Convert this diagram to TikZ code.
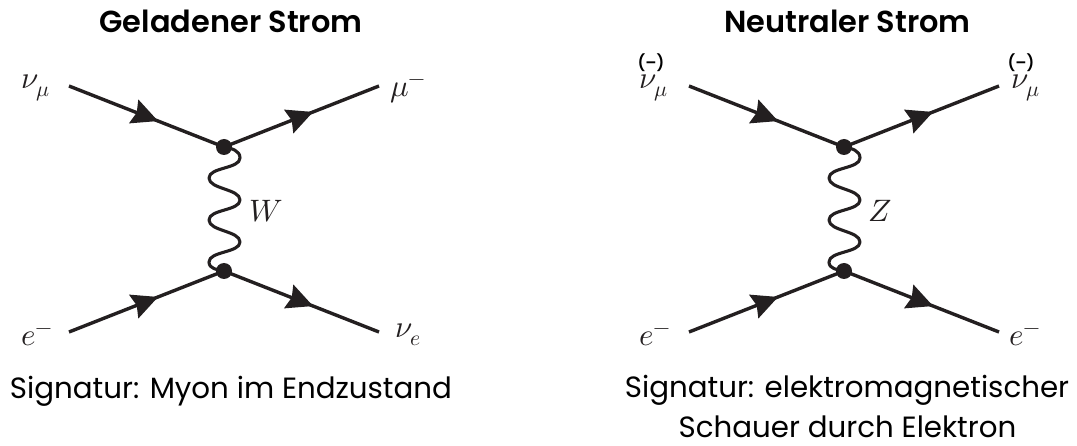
\documentclass[tikz,border=0pt]{standalone}
\usepackage{fontspec}
\setmainfont{Poppins}
\newfontfamily\semifont{Poppins SemiBold}
\usepackage{unicode-math}
\setmathfont{Latin Modern Math}
\usetikzlibrary{arrows.meta,decorations.markings,calc}
\definecolor{ink}{HTML}{231F20}
\tikzset{
  x=1pt,y=-1pt,
  fermion/.style={line width=3.4pt,color=ink,postaction={decorate},decoration={markings,mark=at position 0.575 with {\arrow[ink]{Stealth[length=26pt,width=25pt,inset=3pt]}}}},
  boson/.style={line width=3.1pt,color=ink},
  vertexdot/.style={circle,fill=ink,inner sep=0pt,minimum size=16pt},
  title/.style={font=\fontsize{30.4}{32}\semifont,text=black,anchor=base,inner sep=0pt},
  caption/.style={font=\fontsize{29.3}{40}\selectfont,text=black,anchor=base,inner sep=0pt},
  mathlabel/.style={font=\fontsize{31}{36}\selectfont,text=ink,anchor=base west,inner sep=0pt},
  barlabel/.style={font=\fontsize{16}{18}\semifont,text=black,inner sep=0pt}
}
\newcommand{\feyn}[2]{%
  \begin{scope}[shift={(#1,0)}]
    \coordinate (#2a) at (69,86);
    \coordinate (#2b) at (379,86);
    \coordinate (#2c) at (69,332);
    \coordinate (#2d) at (379,332);
    \node[vertexdot] (#2u) at (224,147) {};
    \node[vertexdot] (#2l) at (224,271) {};
    \draw[fermion] (#2a) -- (#2u.center);
    \draw[fermion] (#2u.center) -- (#2b);
    \draw[fermion] (#2c) -- (#2l.center);
    \draw[fermion] (#2l.center) -- (#2d);
    \draw[boson,line join=round] (#2u.center) to[out=-10,in=90,looseness=1] ++(16,11)
      to[out=-90,in=90,looseness=.75] ++(-31,20)
      to[out=-90,in=90,looseness=.75] ++(31,22)
      to[out=-90,in=90,looseness=.75] ++(-31,20)
      to[out=-90,in=90,looseness=.75] ++(31,22)
      to[out=-90,in=90,looseness=.75] ++(-31,20)
      to[out=-90,in=170,looseness=1] (#2l.center);
  \end{scope}}
\begin{document}
\begin{tikzpicture}
\useasboundingbox (0,0) rectangle (1077,446);
\feyn{0}{L}
\feyn{620}{R}
\node[mathlabel] (Ln1) at (21,89) {$\nu_\mu$};
\node[mathlabel] (Ln2) at (390,97) {$\mu^-$};
\node[mathlabel] (Ln3) at (21,346) {$e^-$};
\node[mathlabel] (Ln4) at (395,338) {$\nu_e$};
\node[mathlabel] (Ln5) at (249,222) {$W$};
\node[mathlabel] (Rn1) at (639,89) {$\nu_\mu$};
\node[mathlabel] (Rn2) at (1011,89) {$\nu_\mu$};
\node[mathlabel] (Rn3) at (639,346) {$e^-$};
\node[mathlabel] (Rn4) at (1009,346) {$e^-$};
\node[mathlabel] (Rn5) at (868,222) {$Z$};
\node[barlabel] (b1) at (651,63) {(–)};
\node[barlabel] (b2) at (1021,63) {(–)};
\node[title] (t1) at (231,33) {Geladener Strom};
\node[title] (t2) at (847.5,33) {Neutraler Strom};
\node[caption] (c1) at (231,399) {Signatur: Myon im Endzustand};
\node[caption] (c2) at (847,398) {Signatur: elektromagnetischer};
\node[caption] (c3) at (847.5,437) {Schauer durch Elektron};
\end{tikzpicture}
\end{document}
